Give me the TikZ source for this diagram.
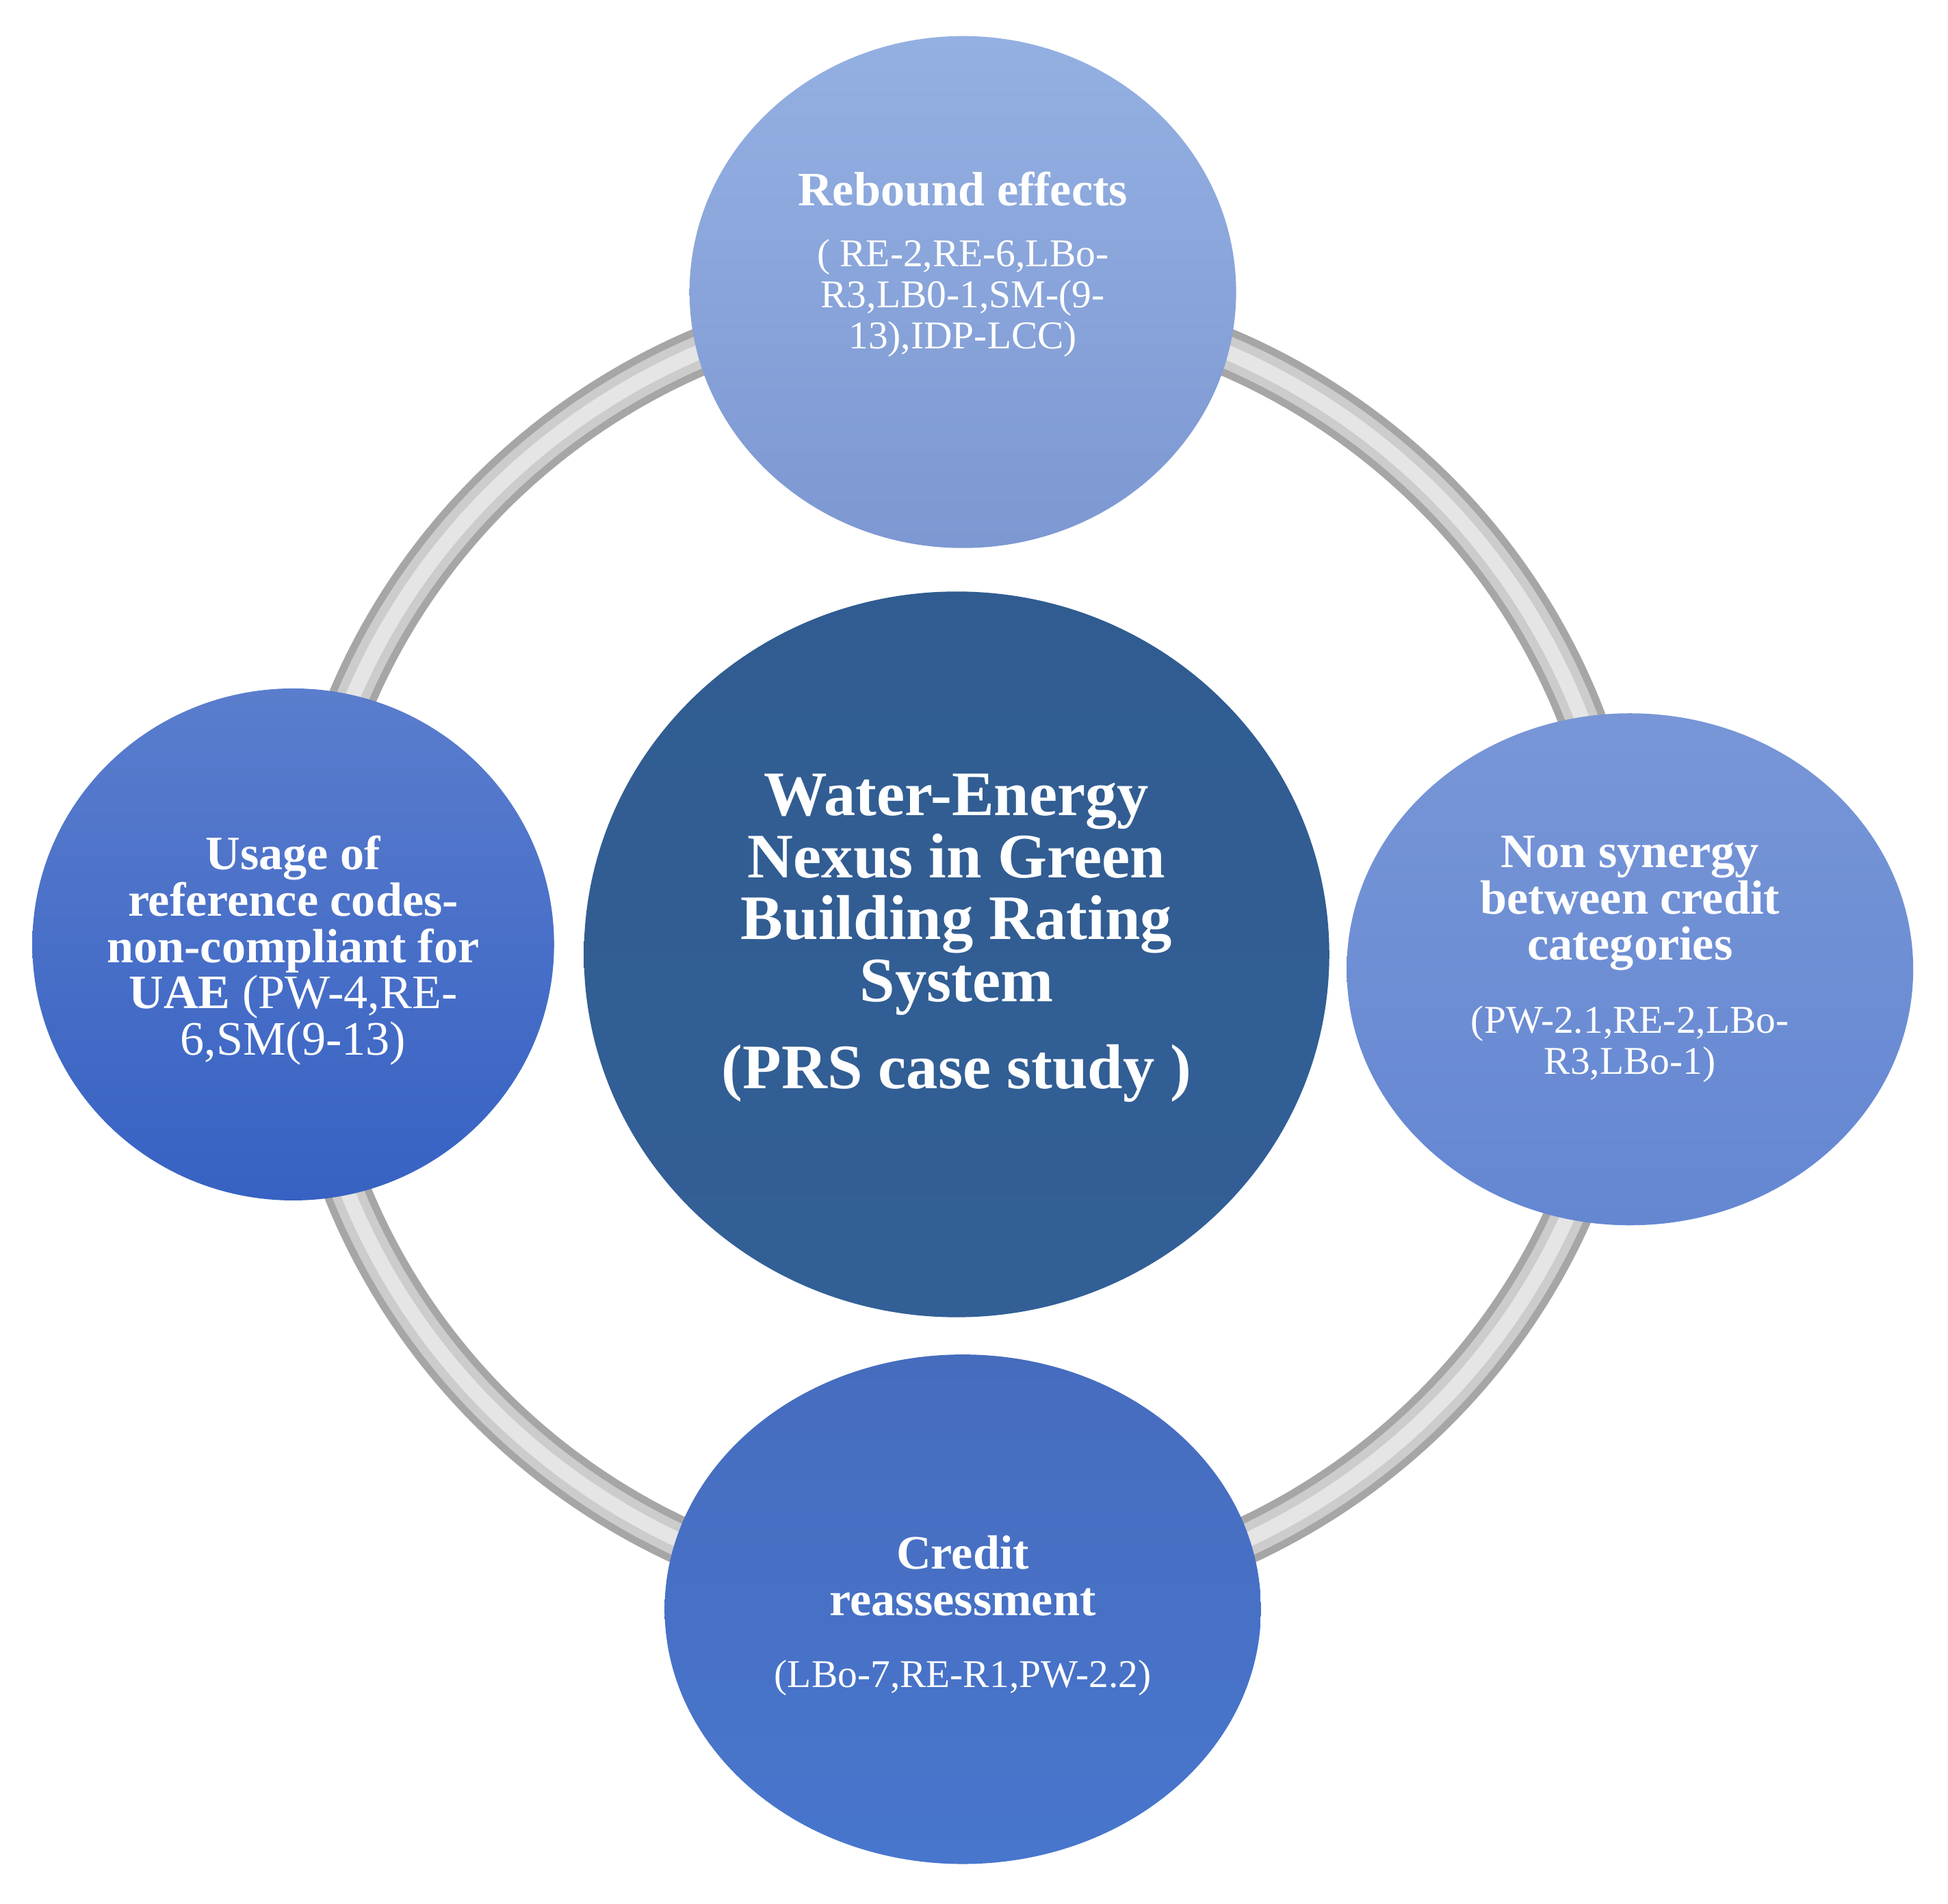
\documentclass[tikz,border=0pt]{standalone}
\usepackage{fontspec}
\setmainfont{Liberation Serif}
\begin{document}
\begin{tikzpicture}[x=0.01cm,y=-0.01cm,
  ttl/.style={text=white,font=\bfseries\fontsize{11}{10.6}\selectfont,align=center},
  sub/.style={text=white,font=\fontsize{9}{9.4}\selectfont,align=center},
  ctl/.style={text=white,font=\bfseries\fontsize{14.5}{14.2}\selectfont,align=center}]
\useasboundingbox (0,0) rectangle (1568,1532);
% ring
\draw[line width=0.38cm,color=black!35] (775,765) ellipse (533 and 525);
\draw[line width=0.26cm,color=black!20] (775,765) ellipse (533 and 525);
\draw[line width=0.12cm,color=black!10] (775,765) ellipse (533 and 525);
% circles
\shade[top color={rgb,255:red,148;green,176;blue,226}, bottom color={rgb,255:red,125;green,152;blue,210}] (775,235) ellipse (220 and 206);
\shade[top color={rgb,255:red,90;green,125;blue,205}, bottom color={rgb,255:red,55;green,98;blue,195}] (236,760) ellipse (210 and 206);
\shade[top color={rgb,255:red,120;green,150;blue,215}, bottom color={rgb,255:red,100;green,135;blue,210}] (1312,780) ellipse (228 and 206);
\shade[top color={rgb,255:red,70;green,108;blue,190}, bottom color={rgb,255:red,72;green,118;blue,205}] (775,1295) ellipse (240 and 205);
\shade[top color={rgb,255:red,48;green,92;blue,145}, bottom color={rgb,255:red,50;green,95;blue,150}] (770,768) ellipse (300 and 292);
% texts
\node[ttl] (t1) at (775,152) {Rebound effects};
\node[sub] (s1) at (775,240) {( RE-2,RE-6,LBo-\\R3,LB0-1,SM-(9-\\13),IDP-LCC)};
\node[ctl] (c) at (770,720) {Water-Energy\\Nexus in Green\\Building Rating\\System};
\node[ctl] (c2) at (770,864) {(PRS case study )};
\node[ttl,align=center] (t2) at (236,765) {Usage of\\reference codes-\\non-compliant for\\UAE \mdseries(PW-4,RE-\\\mdseries 6,SM(9-13)};
\node[ttl] (t3) at (1312,727) {Non synergy\\between credit\\categories};
\node[sub] (s3) at (1312,840) {(PW-2.1,RE-2,LBo-\\R3,LBo-1)};
\node[ttl] (t4) at (775,1268) {Credit\\reassessment};
\node[sub] (s4) at (775,1350) {(LBo-7,RE-R1,PW-2.2)};
\end{tikzpicture}
\end{document}
